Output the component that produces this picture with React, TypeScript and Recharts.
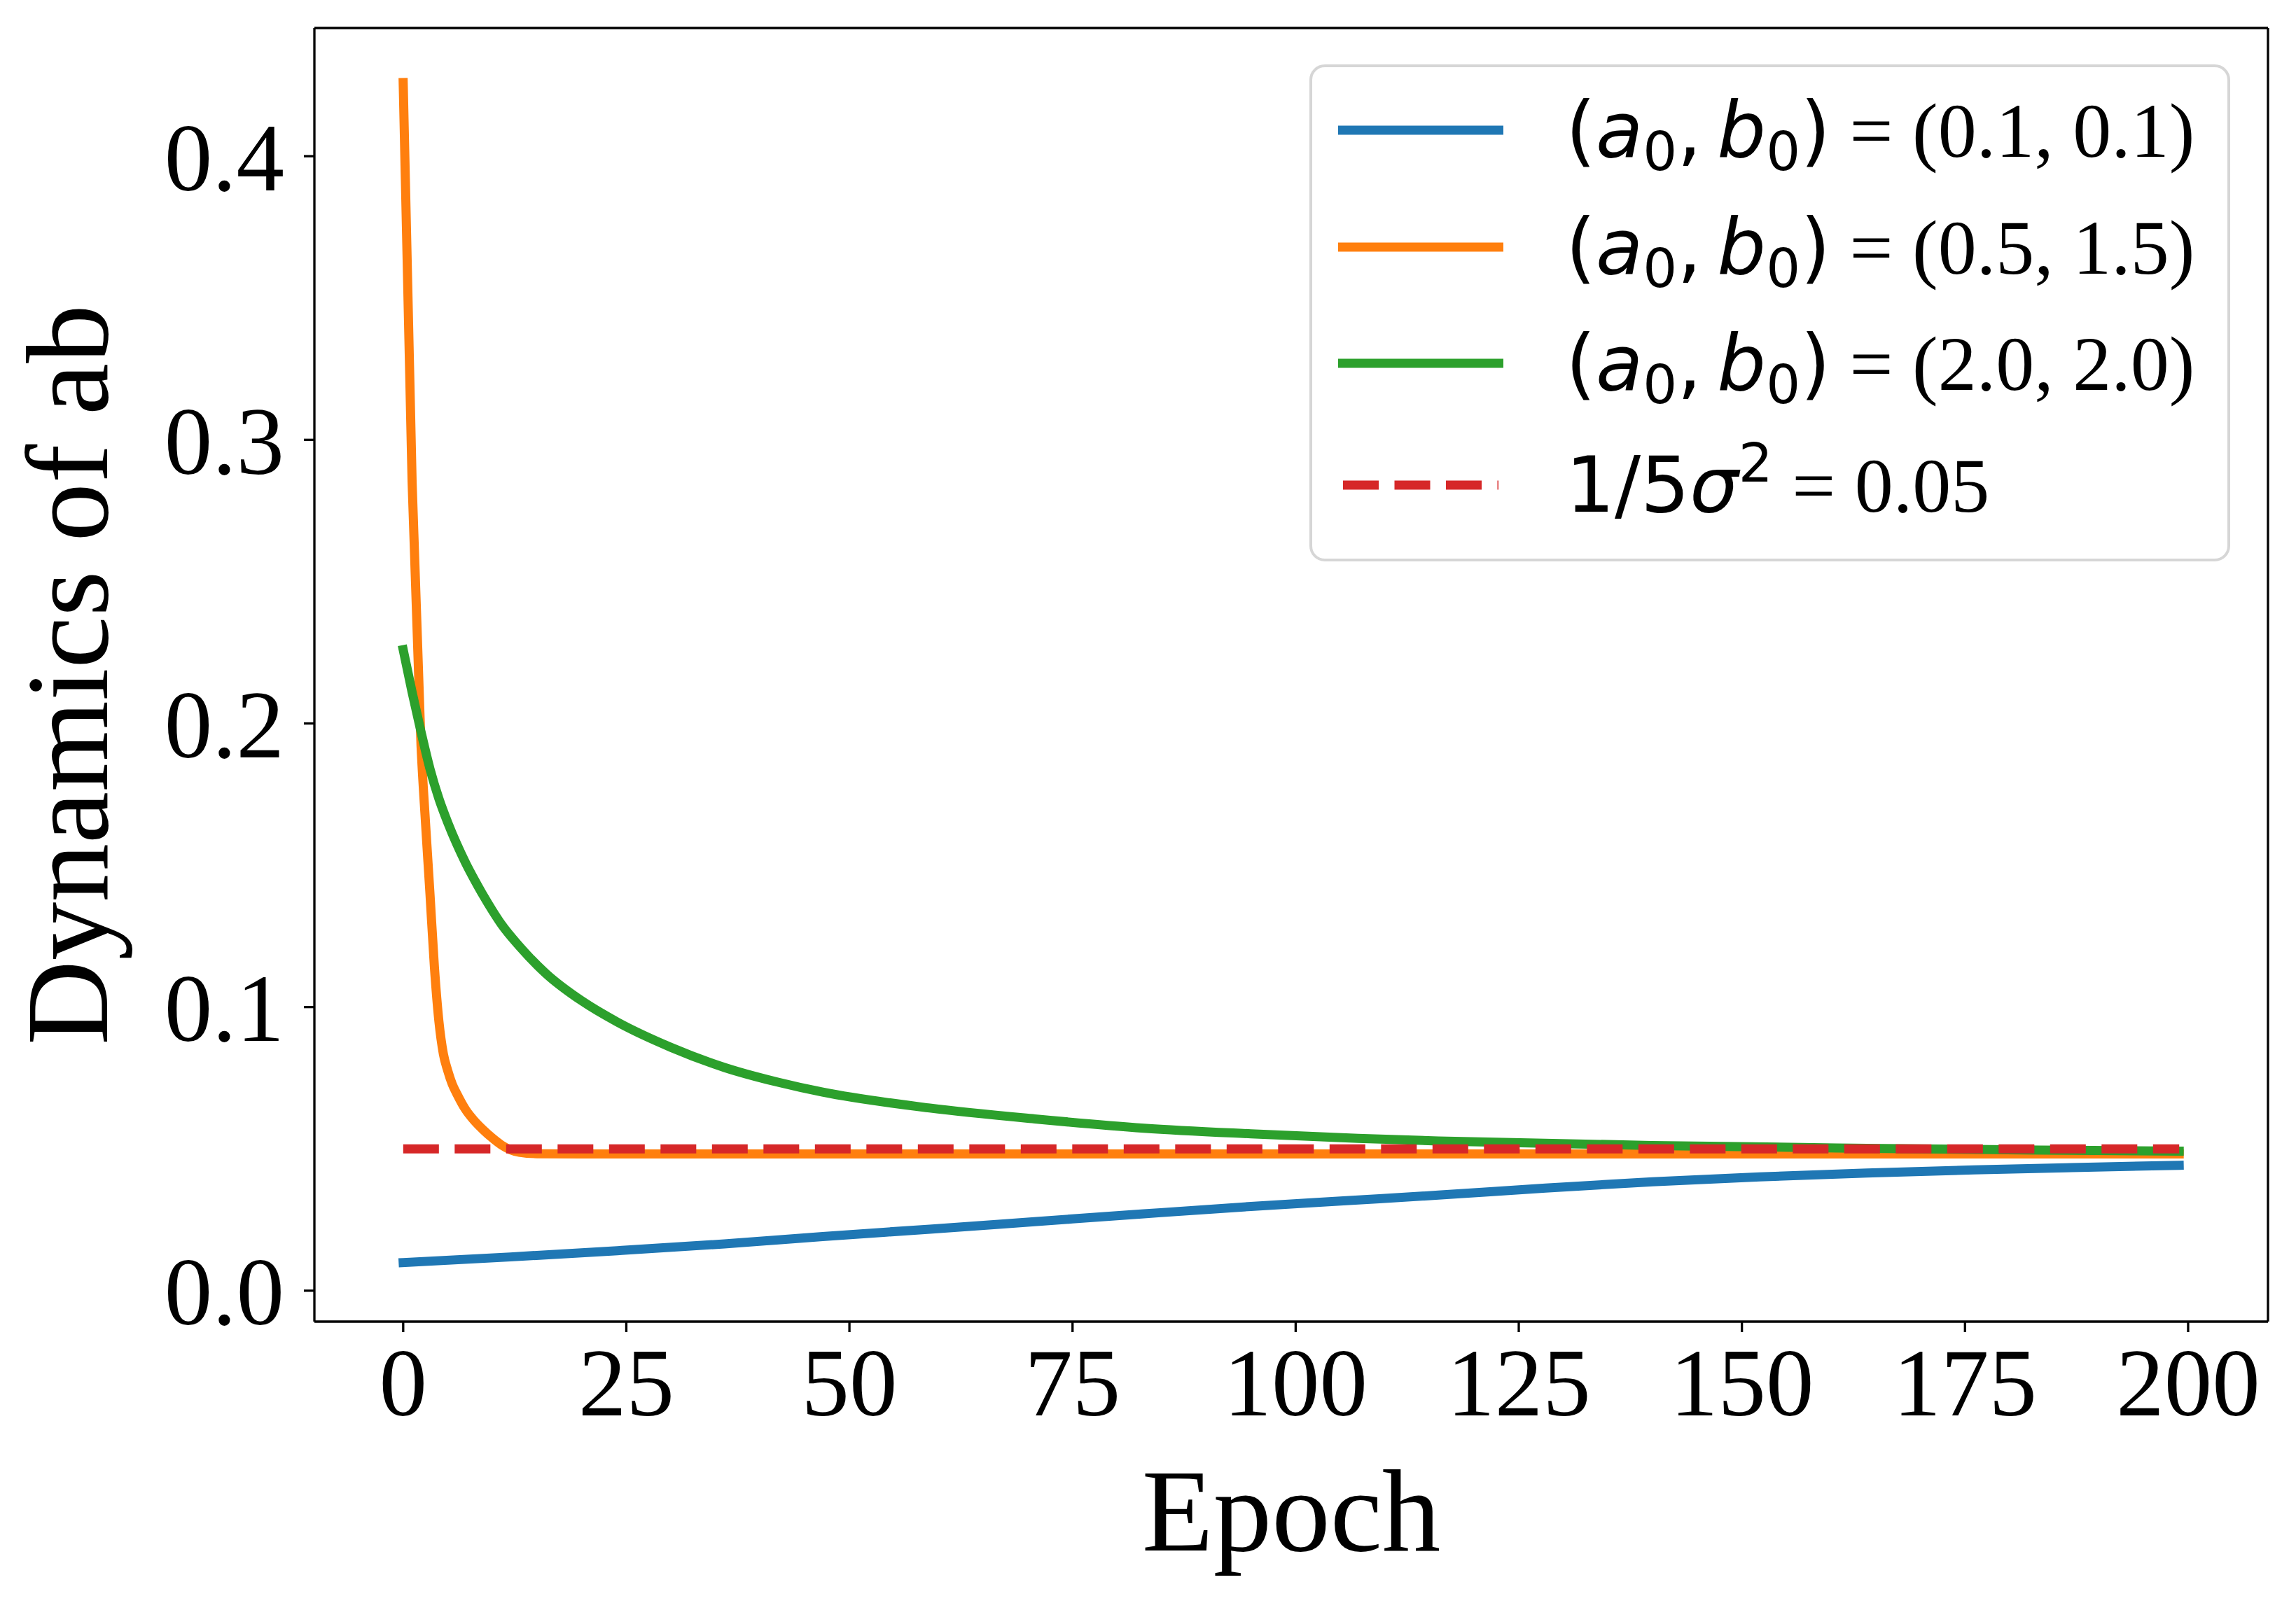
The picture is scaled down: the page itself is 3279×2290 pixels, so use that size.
import React from 'react';
import { LineChart, Line, XAxis, YAxis, Label } from 'recharts';

// ---- data ----
const blueEpochs = [0, 12, 24, 36, 47, 59, 71, 83, 95, 106, 116, 128, 140, 152, 164, 176, 187, 199];
const blueValues = [0.0099, 0.0119, 0.0141, 0.0165, 0.0191, 0.0217, 0.0244, 0.0271, 0.0297, 0.0318, 0.0337, 0.0362, 0.0384, 0.0401, 0.0415, 0.0426, 0.0434, 0.0442];

const orangeEpochs = [0, 1, 2, 2.5, 3, 3.5, 4, 4.5, 5, 5.5, 6, 7, 8, 9, 10, 11, 12, 13, 15, 20, 199];
const orangeValues = [0.426, 0.285, 0.192, 0.165, 0.14, 0.114, 0.095, 0.0835, 0.0775, 0.0728, 0.0695, 0.0638, 0.0598, 0.0566, 0.0538, 0.0514, 0.0497, 0.0488, 0.0483, 0.0482, 0.0482];

const greenEpochs = [0, 1, 2, 3, 4, 5, 6, 7, 8, 9, 10, 11, 13, 16, 20, 24, 30, 36, 42, 47, 59, 71, 83, 95, 107, 116, 140, 164, 187, 199];
const greenValues = [0.226, 0.211, 0.197, 0.184, 0.1735, 0.165, 0.1575, 0.1508, 0.1448, 0.1392, 0.134, 0.1292, 0.1215, 0.1118, 0.1022, 0.0947, 0.0858, 0.0787, 0.0735, 0.07, 0.0644, 0.0605, 0.0573, 0.0553, 0.0537, 0.0528, 0.0512, 0.0502, 0.0495, 0.0492];

const refEpochs = [0, 199];
const refValues = [0.05, 0.05];

const xTicks = [0, 25, 50, 75, 100, 125, 150, 175, 200];
const yTicks = [0, 0.1, 0.2, 0.3, 0.4];

const pairLabels = ['(0.1, 0.1)', '(0.5, 1.5)', '(2.0, 2.0)'];
const refLabel = '0.05';
const xTitle = 'Epoch';
const yTitle = 'Dynamics of ab';

// ---- styles / layout ----
const W = 3279;
const H = 2290;
const COLORS = ['#1f77b4', '#ff7f0e', '#2ca02c', '#d62728'];
const SERIF = "'Liberation Serif', 'Times New Roman', serif";
const SANS = "'DejaVu Sans', sans-serif";
const LW = 13;
const SPINE = 3.3;
const X_DOMAIN: [number, number] = [-9.95, 208.95];
const Y_DOMAIN: [number, number] = [-0.0109, 0.4452];

const zip = (xs: number[], ys: number[]) => xs.map((x, i) => ({ epoch: x, value: ys[i] }));

const blueData = zip(blueEpochs, blueValues);
const orangeData = zip(orangeEpochs, orangeValues);
const greenData = zip(greenEpochs, greenValues);
const refData = zip(refEpochs, refValues);

const tickStyle = { fill: '#000', fontSize: 137, fontFamily: SERIF };

const LEG = { x: 1872, y: 94, w: 1311, h: 706, rx: 20 };
const rowCenters = [186, 353, 519, 693];
const handleX1 = 1911;
const handleX2 = 2147;
const textX = 2236;
const LFS = 110;
const SUBFS = 77;
const BASE_OFF = 38;

function Legend() {
  return (
    <svg
      width={W}
      height={H}
      style={{ position: 'absolute', left: 0, top: 0, pointerEvents: 'none' }}
    >
      <rect
        x={LEG.x}
        y={LEG.y}
        width={LEG.w}
        height={LEG.h}
        rx={LEG.rx}
        ry={LEG.rx}
        fill="#fff"
        fillOpacity={0.8}
        stroke="#cccccc"
        strokeOpacity={0.8}
        strokeWidth={4}
      />
      {pairLabels.map((lab, i) => (
        <g key={lab}>
          <line x1={handleX1} x2={handleX2} y1={rowCenters[i]} y2={rowCenters[i]} stroke={COLORS[i]} strokeWidth={LW} />
          <text x={textX} y={rowCenters[i] + BASE_OFF} fontSize={LFS} fill="#000" style={{ whiteSpace: 'pre' }}>
            <tspan fontFamily={SANS}>(</tspan>
            <tspan fontFamily={SANS} fontStyle="italic">a</tspan>
            <tspan fontFamily={SANS} fontSize={SUBFS} dy={19}>0</tspan>
            <tspan fontFamily={SANS} dy={-19}>{','}</tspan>
            <tspan fontFamily={SANS} fontStyle="italic" dx={22}>b</tspan>
            <tspan fontFamily={SANS} fontSize={SUBFS} dy={19}>0</tspan>
            <tspan fontFamily={SANS} dy={-19}>)</tspan>
            <tspan fontFamily={SERIF}>{' = ' + lab}</tspan>
          </text>
        </g>
      ))}
      <g>
        <line x1={1918} x2={2140} y1={rowCenters[3]} y2={rowCenters[3]} stroke={COLORS[3]} strokeWidth={LW} strokeDasharray="51 22.5" />
        <text x={textX} y={rowCenters[3] + BASE_OFF} fontSize={LFS} fill="#000" style={{ whiteSpace: 'pre' }}>
          <tspan fontFamily={SANS}>1/5</tspan>
          <tspan fontFamily={SANS} fontStyle="italic">σ</tspan>
          <tspan fontFamily={SANS} fontSize={SUBFS} dy={-43}>2</tspan>
          <tspan fontFamily={SERIF} dy={43}>{' = ' + refLabel}</tspan>
        </text>
      </g>
    </svg>
  );
}

export default function App() {
  return (
    <div style={{ position: 'absolute', left: 0, top: 0, width: W, height: H, background: '#fff' }}>
      <LineChart width={W} height={H} margin={{ top: 0, right: 0, bottom: 0, left: 0 }}>
        <XAxis
          dataKey="epoch"
          type="number"
          domain={X_DOMAIN}
          allowDataOverflow
          ticks={xTicks}
          interval={0}
          height={402}
          tickSize={15}
          tickMargin={22}
          tick={tickStyle}
          axisLine={{ stroke: '#000', strokeWidth: SPINE }}
          tickLine={{ stroke: '#000', strokeWidth: SPINE }}
        >
          <Label
            content={(props: any) => {
              const vb = props.viewBox || {};
              return (
                <text x={vb.x + vb.width / 2} y={vb.y + 327} textAnchor="middle" fontFamily={SERIF} fontSize={167} fill="#000">
                  {xTitle}
                </text>
              );
            }}
          />
        </XAxis>
        <XAxis
          xAxisId="top"
          orientation="top"
          type="number"
          domain={X_DOMAIN}
          allowDataOverflow
          height={40}
          tick={false}
          tickLine={false}
          axisLine={{ stroke: '#000', strokeWidth: SPINE }}
        />
        <YAxis
          type="number"
          domain={Y_DOMAIN}
          allowDataOverflow
          ticks={yTicks}
          interval={0}
          width={449}
          tickSize={15}
          tickMargin={28}
          tick={tickStyle}
          tickFormatter={(v: number) => v.toFixed(1)}
          axisLine={{ stroke: '#000', strokeWidth: SPINE }}
          tickLine={{ stroke: '#000', strokeWidth: SPINE }}
        >
          <Label
            content={(props: any) => {
              const vb = props.viewBox || {};
              const cy = vb.y + vb.height / 2;
              const bx = 153;
              return (
                <text x={bx} y={cy} transform={`rotate(-90, ${bx}, ${cy})`} textAnchor="middle" fontFamily={SERIF} fontSize={167} fill="#000">
                  {yTitle}
                </text>
              );
            }}
          />
        </YAxis>
        <YAxis
          yAxisId="right"
          orientation="right"
          type="number"
          domain={Y_DOMAIN}
          allowDataOverflow
          width={40}
          tick={false}
          tickLine={false}
          axisLine={{ stroke: '#000', strokeWidth: SPINE }}
        />
        <Line data={blueData} dataKey="value" type="monotoneX" stroke={COLORS[0]} strokeWidth={LW} strokeLinecap="square" dot={false} activeDot={false} isAnimationActive={false} />
        <Line data={orangeData} dataKey="value" type="monotoneX" stroke={COLORS[1]} strokeWidth={LW} strokeLinecap="square" dot={false} activeDot={false} isAnimationActive={false} />
        <Line data={greenData} dataKey="value" type="monotoneX" stroke={COLORS[2]} strokeWidth={LW} strokeLinecap="square" dot={false} activeDot={false} isAnimationActive={false} />
        <Line data={refData} dataKey="value" type="linear" stroke={COLORS[3]} strokeWidth={LW} strokeDasharray="51 22.5" dot={false} activeDot={false} isAnimationActive={false} />
      </LineChart>
      <Legend />
    </div>
  );
}
